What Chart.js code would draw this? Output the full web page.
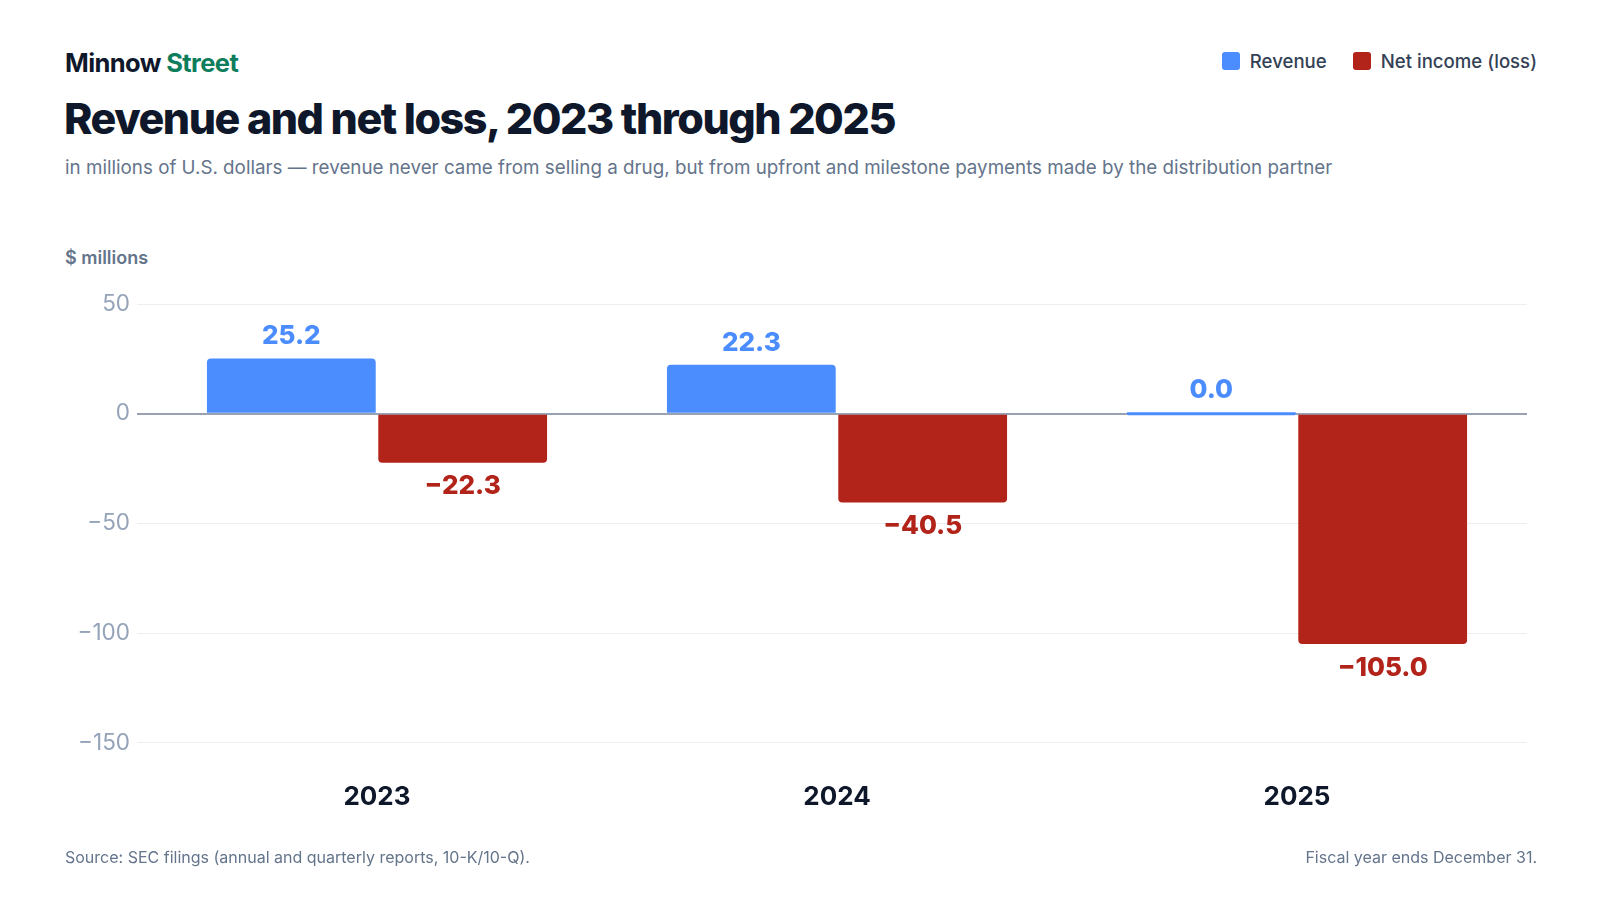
<!DOCTYPE html>
<html>
<head>
<meta charset="utf-8">
<script src="https://cdn.jsdelivr.net/npm/chart.js@4.4.1/dist/chart.umd.min.js"></script>
<style>
  html, body { margin: 0; padding: 0; background: #fff; }
  body { width: 1600px; height: 900px; position: relative; overflow: hidden; font-family: Inter, "Noto Sans", sans-serif; }
  .brand { position: absolute; left: 65px; top: 47px; font-size: 25.5px; font-weight: 700; color: #0f172a; letter-spacing: -0.6px; }
  .brand span { color: #0e7d5b; }
  .title { position: absolute; left: 64px; top: 92px; font-size: 43px; font-weight: 800; color: #0f172a; letter-spacing: -1.45px; }
  .subtitle { position: absolute; left: 65px; top: 156px; font-size: 18.8px; color: #64748b; }
  .unit { position: absolute; left: 65px; top: 247px; font-size: 18px; font-weight: 600; color: #64748b; }
  #legend { position: absolute; right: 63px; top: 50px; display: flex; gap: 26px; font-size: 18.6px; font-weight: 500; color: #334155; }
  #legend div { display: flex; align-items: center; }
  #legend i { display: inline-block; width: 18px; height: 18px; border-radius: 3px; margin-right: 10px; }
  .foot { position: absolute; top: 847px; font-size: 16px; color: #64748b; }
  #wrap { position: absolute; left: 0; top: 200px; width: 1600px; height: 678px; }
</style>
</head>
<body>
<div class="brand">Minnow <span>Street</span></div>
<div id="legend"></div>
<div class="title">Revenue and net loss, 2023 through 2025</div>
<div class="subtitle">in millions of U.S. dollars — revenue never came from selling a drug, but from upfront and milestone payments made by the distribution partner</div>
<div class="unit">$ millions</div>
<div id="wrap"><canvas id="chart"></canvas></div>
<div class="foot" style="left:65px">Source: SEC filings (annual and quarterly reports, 10-K/10-Q).</div>
<div class="foot" style="right:63px">Fiscal year ends December 31.</div>

<script>
const years = ["2023", "2024", "2025"];
const revenue = [25.2, 22.3, 0.0];
const netIncome = [-22.3, -40.5, -105.0];
const yTicks = [50, 0, -50, -100, -150];

const blue = "#4b8dff";
const red = "#b22319";

// minus sign instead of hyphen
function fmt(v, digits) {
  let s = Math.abs(v).toFixed(digits);
  return v < 0 ? "\u2212" + s : s;
}

// value labels above / below each bar
const valueLabels = {
  id: "valueLabels",
  afterDatasetsDraw(chart) {
    const ctx = chart.ctx;
    ctx.save();
    ctx.font = "800 26px Inter";
    ctx.textAlign = "center";
    ctx.textBaseline = "middle";
    chart.data.datasets.forEach((ds, i) => {
      chart.getDatasetMeta(i).data.forEach((bar, j) => {
        let v = ds.data[j];
        let y = v < 0 ? Math.max(bar.y, bar.base) + 24 : Math.min(bar.y, bar.base) - 22;
        ctx.fillStyle = ds.backgroundColor;
        ctx.fillText(fmt(v, 1), bar.x, y);
      });
    });
    ctx.restore();
  }
};

const chart = new Chart(document.getElementById("chart"), {
  type: "bar",
  data: {
    labels: years,
    datasets: [
      { label: "Revenue", data: revenue, backgroundColor: blue },
      { label: "Net income (loss)", data: netIncome, backgroundColor: red }
    ]
  },
  options: {
    responsive: true,
    maintainAspectRatio: false,
    animation: false,
    categoryPercentage: 0.745,
    barPercentage: 0.985,
    minBarLength: 3,
    borderRadius: 4,
    layout: { padding: { left: 0, right: 73, top: 104, bottom: 26 } },
    plugins: {
      legend: { display: false },
      tooltip: { enabled: false }
    },
    scales: {
      x: {
        grid: { display: false, drawTicks: false },
        border: { display: false },
        ticks: { padding: 39, color: "#0f172a", font: { family: "Inter", size: 26, weight: "700" } }
      },
      y: {
        min: -150,
        max: 50,
        afterFit(scale) { scale.width = 147; },
        afterBuildTicks(scale) { scale.ticks = yTicks.map(v => ({ value: v })); },
        border: { display: false },
        grid: {
          tickLength: 10,
          color: c => c.tick && c.tick.value === 0 ? "#98a2b3" : "#eceef2",
          lineWidth: c => c.tick && c.tick.value === 0 ? 2 : 1
        },
        ticks: {
          padding: 7,
          color: "#94a3b8",
          font: { family: "Inter", size: 22.5 },
          callback: v => fmt(v, 0)
        }
      }
    }
  },
  plugins: [valueLabels]
});

// html legend from the datasets
document.getElementById("legend").innerHTML = chart.data.datasets
  .map(ds => `<div><i style="background:${ds.backgroundColor}"></i>${ds.label}</div>`)
  .join("");
</script>
</body>
</html>
